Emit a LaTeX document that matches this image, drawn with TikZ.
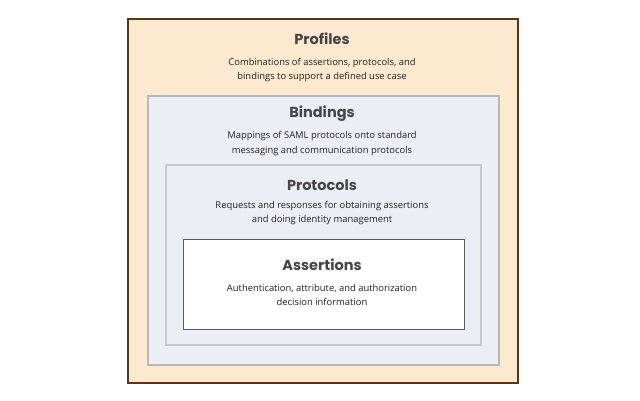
\documentclass[tikz,border=0pt]{standalone}
\usepackage{fontspec}
\setmainfont{Open Sans}
\newfontfamily\titlefont{Poppins}
\definecolor{peach}{HTML}{FDE8D0}
\definecolor{brownb}{HTML}{5A3418}
\definecolor{bluefill}{HTML}{EBEFF5}
\definecolor{greyb}{HTML}{B5B8BC}
\definecolor{greyc}{HTML}{C6CACE}
\definecolor{darkb}{HTML}{5A5A5A}
\definecolor{titlec}{HTML}{454545}
\definecolor{bodyc}{HTML}{222222}
\begin{document}
\begin{tikzpicture}[x=1pt,y=-1pt,
  layer/.style={anchor=north west, inner sep=0pt, outer sep=0pt},
  ttl/.style={font=\titlefont\bfseries\fontsize{14.5}{16}\selectfont, text=titlec, inner sep=0pt},
  desc/.style={font=\fontsize{9.4}{14.4}\selectfont, text=bodyc, align=center, inner sep=0pt}]
\useasboundingbox (0,0) rectangle (640,400);
\node (profiles) [layer, draw=brownb, line width=2pt, fill=peach, minimum width=390pt, minimum height=364pt] at (128,19) {};
\node (bindings) [layer, draw=greyb, line width=1.2pt, fill=bluefill, minimum width=351pt, minimum height=269pt] at (148,96) {};
\node (protocols) [layer, draw=greyc, line width=1.5pt, fill=bluefill, minimum width=315pt, minimum height=180pt] at (166,165) {};
\node (assertions) [layer, draw=darkb, line width=1pt, fill=white, minimum width=281pt, minimum height=90pt] at (183,239) {};

\node (tprof) [ttl] at (322,39) {Profiles};
\node (dprof) [desc] at (322,70) {Combinations of assertions, protocols, and\\bindings to support a defined use case};
\node (tbind) [ttl] at (322,114) {Bindings};
\node (dbind) [desc] at (322,143.5) {Mappings of SAML protocols onto standard\\messaging and communication protocols};
\node (tprot) [ttl] at (322,185) {Protocols};
\node (dprot) [desc] at (322,213) {Requests and responses for obtaining assertions\\and doing identity management};
\node (tass) [ttl] at (322,265) {Assertions};
\node (dass) [desc] at (322,295) {Authentication, attribute, and authorization\\decision information};
\end{tikzpicture}
\end{document}
